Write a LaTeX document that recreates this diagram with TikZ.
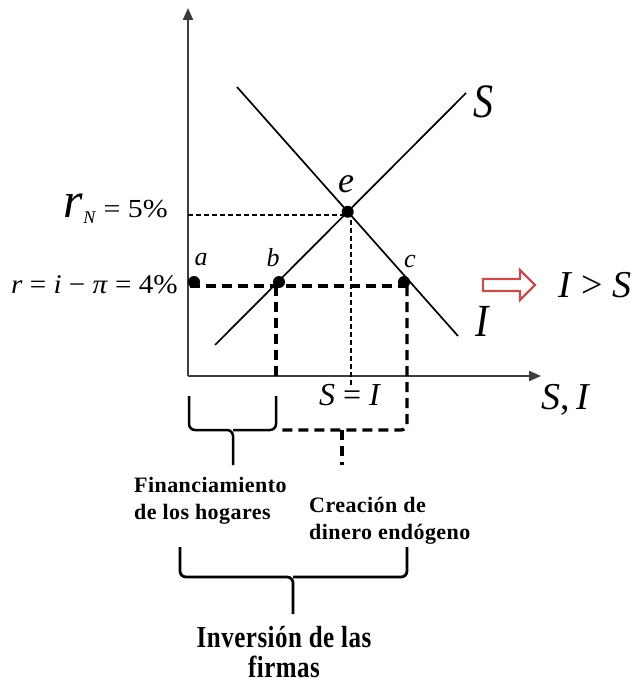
\documentclass[tikz,border=0pt]{standalone}
\usepackage{graphicx}
\usepackage{fontspec}
\setmainfont{Liberation Serif}
\newfontfamily\spacedbf[LetterSpace=2]{Liberation Serif}
\usetikzlibrary{calc,positioning,arrows.meta}
\definecolor{axisgray}{RGB}{60,60,60}
\definecolor{arrowred}{RGB}{192,80,77}
\newcommand{\fs}[1]{\fontsize{#1}{#1}\selectfont}

\begin{document}
\begin{tikzpicture}[x=1pt,y=-1pt,
  axis/.style={line width=2pt,color=axisgray,-{Triangle[length=12pt,width=10pt]}},
  curve/.style={line width=1.7pt},
  dot/.style={circle,fill,inner sep=0pt,minimum size=12pt},
  thindash/.style={line width=1.1pt,dash pattern=on 5pt off 3pt},
  thickdash/.style={line width=3.2pt,dash pattern=on 10pt off 6pt},
  brace/.style={line width=2.5pt,rounded corners=6pt},
  lbl/.style={inner sep=0pt,font=\itshape\fs{26}},
  txt/.style={inner sep=0pt,align=left,font=\spacedbf\bfseries\fontsize{22}{27.5}\selectfont}]
  \useasboundingbox (0,0) rectangle (639,684);
  \coordinate (O) at (188,376);
  \draw[axis] (O) -- (188,8);
  \draw[axis] (O) -- (541,376);
  \coordinate (Slo) at (215,345);
  \coordinate (Shi) at (466,93);
  \coordinate (Ihi) at (237,87);
  \coordinate (Ilo) at (458,336);
  \draw[curve] (Slo) -- (Shi);
  \draw[curve] (Ihi) -- (Ilo);
  \node[dot] (e) at (intersection of Slo--Shi and Ihi--Ilo) {};
  \node[dot] (a) at (194,282) {};
  \node[dot] (b) at (279,282) {};
  \node[dot] (c) at (404,282) {};
  \coordinate (eY) at (188,215);
  \coordinate (eX) at (351,385);
  \draw[thindash] (eY) -- (eY -| eX) -- (eX);
  \coordinate (rowL) at (190,286);
  \coordinate (rowR) at (407,286);
  \draw[thickdash] (rowL) -- (rowR);
  \draw[thickdash] (276,286) -- (276,376);
  \draw[thickdash,rounded corners=6pt] (rowR) -- (407,430) -- (278,430);
  \draw[thickdash] (342,430) -- (342,465);
  \draw[brace] (189,396) -- (189,430) -- (233,430) -- (233,465);
  \draw[brace] (276,396) -- (276,430) -- (233,430);
  \draw[brace,line width=2.8pt] (180,547) -- (180,577) -- (293,577) -- (293,614);
  \draw[brace,line width=2.8pt] (407,547) -- (407,577) -- (293,577);
  \node[lbl] (la) at (201,260) {a};
  \node[lbl] (lb) at (273,258) {b};
  \node[lbl] (lc) at (410,262) {c};
  \node[lbl,font=\itshape\fs{36}] (le) at (346,184) {e};
  \node[lbl,font=\itshape\fs{40}] (lS) at (483,102) {\scalebox{1}[1.2]{S}};
  \node[lbl,font=\itshape\fs{40}] (lI) at (482,321) {\scalebox{1}[1.15]{I}};
  \node[lbl,font=\fs{32}] (eq) at (350,395) {\textit{S} = \textit{I}};
  \node[lbl,font=\fs{38}] (axlbl) at (566,400) {\textit{S},\,\textit{I}};
  \node[inner sep=0pt,anchor=base east] (rN) at (168,218)
    {\fs{50}\textit{r}\raisebox{-6pt}{\fs{18}\textit{N}}\scalebox{1.15}[1]{\fs{26} = 5\%}};
  \node[inner sep=0pt,anchor=base east,font=\fs{27}] (rr) at (178,293)
    {\scalebox{1.08}[1]{\textit{r} = \textit{i} − \textit{π} = 4\%}};
  \draw[line width=2.2pt,draw=arrowred,fill=white]
    (483,279) -- (520,279) -- (520,270) -- (535,285) -- (520,300) -- (520,291) -- (483,291) -- cycle;
  \node[lbl,font=\fs{38}] (gap) at (595,285) {\textit{I} > \textit{S}};
  \node[txt,anchor=north west] (finan) at (134,477) {Financiamiento\\de los hogares};
  \node[txt,anchor=north west] (creac) at (309,497) {Creación de\\dinero endógeno};
  \node[inner sep=0pt,anchor=north] (inv) at (284,626)
    {\scalebox{1}[1.22]{\parbox{220pt}{\centering\spacedbf\bfseries\fontsize{25}{24.5}\selectfont Inversión de las\\firmas}}};
\end{tikzpicture}
\end{document}
